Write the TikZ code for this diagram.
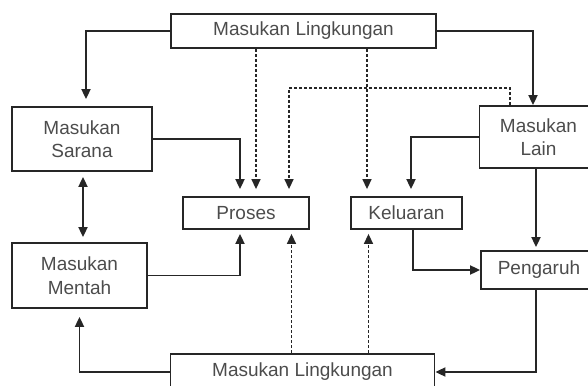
\documentclass[tikz,border=0pt]{standalone}
\usepackage{fontspec}
\setmainfont{Liberation Sans}
\usetikzlibrary{arrows.meta}
\tikzset{
  box/.style={draw=black!85, line width=1.8pt, rectangle, inner sep=0pt, align=center,
    text=black!70, font=\fontsize{19}{23.5}\selectfont},
  arr/.style={draw=black!85, line width=1.8pt, -{Triangle[length=10pt,width=9pt]}},
  darr/.style={arr, {Triangle[length=10pt,width=9pt]}-{Triangle[length=10pt,width=9pt]}},
  dsh/.style={arr, line width=1.5pt, dash pattern=on 3pt off 2pt}
}
\begin{document}
\begin{tikzpicture}[x=1pt, y=-1pt]
  \useasboundingbox (0,0) rectangle (588,385);
  % Boxes
  \node[box, minimum width=265pt, minimum height=34pt] (topenv) at (303.5,31) {Masukan Lingkungan};
  \node[box, minimum width=140pt, minimum height=64pt] (sarana) at (82,139) {Masukan\\Sarana};
  \node[box, minimum width=135pt, minimum height=65pt] (mentah) at (79.5,275.5) {Masukan\\Mentah};
  \node[box, minimum width=126pt, minimum height=32pt] (proses) at (246,213) {Proses};
  \node[box, minimum width=111pt, minimum height=32pt] (keluaran) at (406.5,213) {Keluaran};
  \node[box, minimum width=118pt, minimum height=62pt] (lain) at (538.5,137) {Masukan\\Lain};
  \node[box, minimum width=116pt, minimum height=38pt] (pengaruh) at (539,270) {Pengaruh};
  \node[box, minimum width=264pt, minimum height=36pt] (botenv) at (302.5,372) {Masukan Lingkungan};
  % Environment from the top
  \draw[arr, shorten >=7pt] (topenv.west) -| ([xshift=4pt]sarana.north);
  \draw[arr] (topenv.east) -| ([xshift=-5.5pt]lain.north);
  \draw[dsh, shorten >=7pt] ([xshift=-47.5pt]topenv.south) -- ([xshift=10pt]proses.north);
  \draw[dsh, shorten >=7pt] ([xshift=63.5pt]topenv.south) -- ([xshift=-39.5pt]keluaran.north);
  \draw[dsh, shorten >=7pt] ([xshift=-28.5pt]lain.north) |- (300,88) -| ([xshift=43pt]proses.north);
  % Inputs to process and output
  \draw[arr, shorten >=7pt] (sarana.east) -| ([xshift=-6pt]proses.north);
  \draw[arr, shorten >=7pt] (lain.west) -| ([xshift=4.5pt]keluaran.north);
  \draw[darr, shorten <=5pt, shorten >=5pt] ([xshift=1pt]sarana.south) -- ([xshift=3.5pt]mentah.north);
  \draw[arr, shorten >=4pt] (mentah.east) -| ([xshift=-6pt]proses.south);
  % Effect chain
  \draw[arr, shorten >=3pt] ([xshift=-2.5pt]lain.south) -- ([xshift=-2.5pt]lain.south |- pengaruh.north);
  \draw[arr] ([xshift=6.5pt]keluaran.south) |- (pengaruh.west);
  \draw[arr] ([xshift=-3pt]pengaruh.south) |- (botenv.east);
  % Environment from the bottom
  \draw[arr, shorten >=8pt] (botenv.west) -| (mentah.south);
  \draw[dsh, shorten >=4pt] ([xshift=-11pt]botenv.north) -- ([xshift=45.5pt]proses.south);
  \draw[dsh, shorten >=4pt] ([xshift=66pt]botenv.north) -- ([xshift=-38pt]keluaran.south);
\end{tikzpicture}
\end{document}
